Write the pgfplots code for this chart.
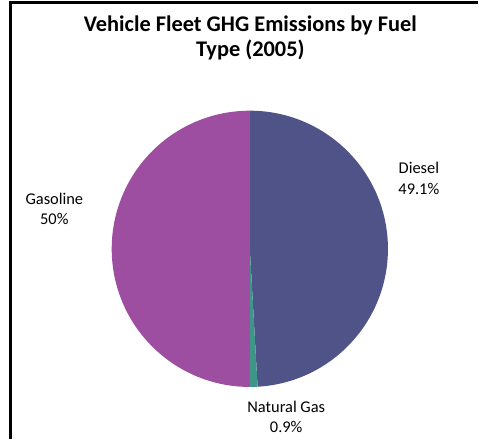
\documentclass[border=0pt]{standalone}
\usepackage{pgfplots}
\usepackage{pgfplotstable}
\pgfplotsset{compat=1.18}
\usepackage{fontspec}
\setmainfont{Carlito}
\definecolor{dieselc}{RGB}{80,83,136}
\definecolor{gasc}{RGB}{62,150,138}
\definecolor{gasolc}{RGB}{157,78,161}
\pgfplotstableread{
fuel value
Diesel 49.1
NaturalGas 0.9
Gasoline 50
}\fueldata
\begin{document}
\begin{tikzpicture}
\pgfplotstablegetelem{0}{value}\of\fueldata \pgfmathsetmacro{\vD}{\pgfplotsretval}
\pgfplotstablegetelem{1}{value}\of\fueldata \pgfmathsetmacro{\vN}{\pgfplotsretval}
\pgfplotstablegetelem{2}{value}\of\fueldata \pgfmathsetmacro{\vG}{\pgfplotsretval}
\pgfmathsetmacro{\aA}{90}
\pgfmathsetmacro{\aB}{90-3.6*\vD}
\pgfmathsetmacro{\aC}{\aB-3.6*\vN}
\pgfmathsetmacro{\aE}{\aC-3.6*\vG}
\begin{axis}[
  width=479bp, height=440bp, scale only axis,
  xmin=0, xmax=479, ymin=0, ymax=440,
  enlargelimits=false, hide axis, clip=false,
]
\fill[white] (axis cs:0,0) rectangle (axis cs:479,440);
\fill[dieselc] (axis cs:250.5,190.5) -- ++(\aA:138.5bp) arc[start angle=\aA, end angle=\aB, radius=138.5bp] -- cycle;
\fill[gasc] (axis cs:250.5,190.5) -- ++(\aB:138.5bp) arc[start angle=\aB, end angle=\aC, radius=138.5bp] -- cycle;
\fill[gasolc] (axis cs:250.5,190.5) -- ++(\aC:138.5bp) arc[start angle=\aC, end angle=\aE, radius=138.5bp] -- cycle;
\draw[black, line width=2.6bp] (axis cs:10.5,0) -- (axis cs:10.5,437.3) -- (axis cs:479,437.3);
\node[anchor=base, font=\fontsize{22.5}{26}\selectfont\bfseries] at (axis cs:251,408) {Vehicle Fleet GHG Emissions by Fuel};
\node[anchor=base, font=\fontsize{22.5}{26}\selectfont\bfseries] at (axis cs:251,383) {Type (2005)};
\node[anchor=base, font=\fontsize{16.5}{19}\selectfont] at (axis cs:420,266) {Diesel};
\node[anchor=base, font=\fontsize{16.5}{19}\selectfont] at (axis cs:420,245) {49.1\%};
\node[anchor=base, font=\fontsize{16.5}{19}\selectfont] at (axis cs:54.5,235) {Gasoline};
\node[anchor=base, font=\fontsize{16.5}{19}\selectfont] at (axis cs:54.5,215) {50\%};
\node[anchor=base, font=\fontsize{16.5}{19}\selectfont] at (axis cs:287,26) {Natural Gas};
\node[anchor=base, font=\fontsize{16.5}{19}\selectfont] at (axis cs:287,6) {0.9\%};
\end{axis}
\end{tikzpicture}
\end{document}
